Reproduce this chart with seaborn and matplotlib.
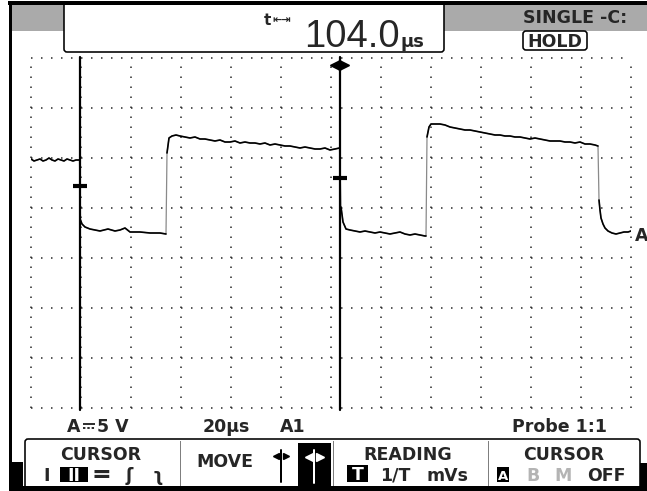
import matplotlib
matplotlib.use('Agg')
import matplotlib.pyplot as plt
import seaborn as sns
from matplotlib.patches import Rectangle, FancyBboxPatch

# channel A trace, time in us (20 us/div), volts (5 V/div, 0 V = ground marker)
t_pre = [0.0, 1.2, 2.4, 3.6, 4.8, 6.0, 7.2, 8.4, 9.6, 10.8, 12.0, 13.2, 14.4, 15.6, 16.8, 18.0, 19.4]
v_pre = [7.4, 7.2, 7.3, 7.4, 7.2, 7.3, 7.5, 7.3, 7.2, 7.4, 7.3, 7.2, 7.4, 7.3, 7.2, 7.3, 7.3]

t_low1 = [19.8, 20.4, 21.6, 23.6, 25.6, 27.6, 30.8, 33.6, 35.6, 37.6, 39.6, 43.6, 47.6, 51.6, 54.0]
v_low1 = [1.3, 0.9, 0.6, 0.4, 0.3, 0.2, 0.4, 0.2, 0.3, 0.5, 0.1, 0.1, 0.0, 0.0, -0.1]

t_high1 = [54.4, 55.2, 56.4, 58.0, 59.6, 61.6, 63.6, 65.6, 67.6, 69.6, 71.6, 73.6, 75.6, 77.6,
           79.6, 81.6, 83.6, 85.6, 87.6, 89.6, 91.6, 93.6, 95.6, 97.6, 99.6, 101.6, 103.6,
           105.6, 107.6, 109.6, 111.6, 113.6, 115.6, 117.6, 119.6, 121.6, 123.4]
v_high1 = [8.0, 9.5, 9.7, 9.8, 9.7, 9.6, 9.5, 9.6, 9.4, 9.4, 9.3, 9.2, 9.3, 9.1, 9.1, 9.2, 9.0,
           9.1, 9.0, 9.0, 8.9, 9.0, 8.8, 8.9, 8.8, 8.7, 8.7, 8.6, 8.5, 8.6, 8.5, 8.4, 8.4, 8.5,
           8.3, 8.4, 8.5]

t_low2 = [124.0, 124.8, 126.0, 127.6, 129.6, 131.6, 133.6, 135.6, 137.6, 139.6, 141.6, 143.6,
          145.6, 147.6, 149.6, 151.6, 153.6, 155.6, 157.6, 158.0]
v_low2 = [2.6, 1.1, 0.4, 0.3, 0.2, 0.1, 0.2, 0.1, 0.0, 0.1, 0.0, -0.1, 0.0, 0.1, -0.1, -0.2,
          -0.1, -0.2, -0.3, -0.3]

t_high2 = [158.4, 159.2, 160.0, 161.6, 163.6, 165.6, 167.6, 169.6, 171.6, 173.6, 175.6, 177.6,
           179.6, 181.6, 183.6, 185.6, 187.6, 189.6, 191.6, 193.6, 195.6, 197.6, 199.6, 201.6,
           203.6, 205.6, 207.6, 209.6, 211.6, 213.6, 215.6, 217.6, 219.6, 221.6, 223.6, 225.6, 226.8]
v_high2 = [9.6, 10.6, 10.9, 10.9, 10.9, 10.8, 10.6, 10.5, 10.4, 10.3, 10.3, 10.2, 10.1, 10.0,
           9.9, 9.8, 9.8, 9.7, 9.7, 9.6, 9.6, 9.5, 9.4, 9.5, 9.4, 9.3, 9.2, 9.2, 9.2, 9.1, 9.1,
           9.0, 9.1, 8.9, 8.9, 8.8, 8.7]

t_low3 = [227.2, 227.6, 228.0, 228.8, 229.6, 230.8, 232.4, 234.0, 235.6, 237.2, 238.8, 240.0]
v_low3 = [3.3, 2.3, 1.5, 0.9, 0.5, 0.2, 0.0, -0.1, 0.0, 0.1, 0.1, 0.2]

cursor_t = [19.4, 123.4]
cursor_mark_v = [4.7, 5.5]

x_ticks = [0, 20, 40, 60, 80, 100, 120, 140, 160, 180, 200, 220, 240]
y_ticks = [-17.5, -12.5, -7.5, -2.5, 2.5, 7.5, 12.5, 17.5]

readout = '104.0'
status_left = ['A', '5 V']   # DC sign between them is drawn, no installed font has it
status_mid = ['20\u00b5s', 'A1']
status_right = 'Probe 1:1'

segments = [(t_pre, v_pre), (t_low1, v_low1), (t_high1, v_high1),
            (t_low2, v_low2), (t_high2, v_high2), (t_low3, v_low3)]
t_all = [t for s in segments for t in s[0]]
v_all = [v for s in segments for v in s[1]]

sns.set_style('white')
plt.rcParams['font.family'] = ['DejaVu Sans']
px = 0.72  # one pixel in points at dpi 100

fig = plt.figure(figsize=(6.47, 4.91), dpi=100)

# screen furniture in pixel coordinates
bg = fig.add_axes([0, 0, 1, 1])
bg.set_xlim(0, 647)
bg.set_ylim(491, 0)
bg.axis('off')

bg.add_patch(Rectangle((12, 4), 640, 27, fc='#aaaaaa', ec='none'))
bg.add_patch(FancyBboxPatch((64, 2), 380, 50, boxstyle='round,pad=0,rounding_size=3',
                            fc='white', ec='black', lw=1.6 * px))
bg.add_patch(Rectangle((8, 1), 639, 3.5, fc='black', ec='none'))
bg.add_patch(Rectangle((8.5, 1), 3.5, 462, fc='black', ec='none'))

bg.text(264, 25, 't', fontsize=11, fontweight='bold', va='baseline')
bg.text(272, 23, '\u21e4\u21e5', fontsize=8, fontweight='bold', va='baseline')
bg.text(304, 47, readout, fontsize=27.5, family=['Liberation Sans'], va='baseline')
bg.text(401, 47, '\u00b5s', fontsize=13, fontweight='bold', va='baseline')

bg.text(523, 23, 'SINGLE -C:', fontsize=12.5, fontweight='bold', va='baseline')
bg.add_patch(FancyBboxPatch((523, 31), 64, 19, boxstyle='round,pad=0,rounding_size=3',
                            fc='white', ec='black', lw=1.6 * px))
bg.text(555, 47, 'HOLD', fontsize=12.5, fontweight='bold', va='baseline', ha='center')

# status line
bg.text(67, 432, status_left[0], fontsize=12.5, fontweight='bold', va='baseline')
bg.plot([83, 95], [423.5, 423.5], color='black', lw=1.6 * px, solid_capstyle='butt')
bg.plot([83, 95], [428, 428], color='black', lw=1.6 * px, ls=(0, (1.5, 1.2)))
bg.text(97, 432, status_left[1], fontsize=12.5, fontweight='bold', va='baseline')
bg.text(203, 432, status_mid[0], fontsize=12.5, fontweight='bold', va='baseline')
bg.text(280, 432, status_mid[1], fontsize=12.5, fontweight='bold', va='baseline')
bg.text(512, 432, status_right, fontsize=12.5, fontweight='bold', va='baseline')

# soft keys
bg.add_patch(FancyBboxPatch((25, 439), 615, 60, boxstyle='round,pad=0,rounding_size=3',
                            fc='white', ec='black', lw=1.6 * px))
bg.add_patch(Rectangle((8.5, 462), 14, 30, fc='black', ec='none'))
bg.add_patch(Rectangle((640, 463), 8, 30, fc='black', ec='none'))
bg.add_patch(Rectangle((8.5, 486), 640, 6, fc='black', ec='none'))
for xs in [180, 333, 488]:
    bg.plot([xs, xs], [441, 486], color='black', lw=px, ls=(0, (1, 1)))

kw = dict(fontsize=12.5, fontweight='bold', va='baseline')
bg.text(101, 460, 'CURSOR', ha='center', **kw)
bg.text(47, 481, 'I', ha='center', **kw)
bg.add_patch(Rectangle((60, 467), 28, 15, fc='black', ec='none'))
bg.text(74, 481, 'II', ha='center', color='white', **kw)
bg.text(101, 482, '=', ha='center', fontsize=17, fontweight='bold', va='baseline')
bg.text(129, 481, '\u0283', ha='center', **kw)
bg.text(158, 481, '\u0285', ha='center', **kw)

bg.text(196, 467, 'MOVE', **kw)
bg.plot([281, 281], [450, 482], color='black', lw=2 * px)
bg.plot([276], [456], marker='<', ms=5, color='black')
bg.plot([286], [456], marker='>', ms=5, color='black')
bg.add_patch(Rectangle((298, 443), 33, 45, fc='black', ec='none'))
bg.plot([314, 314], [450, 483], color='white', lw=2 * px)
bg.plot([308.5], [457], marker='<', ms=6, color='white')
bg.plot([319.5], [457], marker='>', ms=6, color='white')

bg.text(408, 460, 'READING', ha='center', **kw)
bg.add_patch(Rectangle((347, 465), 21, 17, fc='black', ec='none'))
bg.text(357.5, 480, 'T', ha='center', color='white', **kw)
bg.text(380, 481, '1/T', **kw)
bg.text(427, 481, 'mVs', **kw)

bg.text(564, 460, 'CURSOR', ha='center', **kw)
bg.add_patch(Rectangle((497, 467), 12, 15, fc='black', ec='none'))
bg.text(503, 480, 'A', ha='center', color='white', fontsize=9.5, fontweight='bold', va='baseline')
bg.text(533, 481, 'B', ha='center', color='#b4b4b4', **kw)
bg.text(563, 481, 'M', ha='center', color='#b4b4b4', **kw)
bg.text(587, 481, 'OFF', **kw)

# scope graticule and trace
ax = fig.add_axes([31 / 647, 83 / 491, 600 / 647, 350 / 491])
ax.patch.set_alpha(0)
ax.set_xlim(0, 240)
ax.set_ylim(-17.5, 17.5)
ax.set_xticks(x_ticks)
ax.set_yticks(y_ticks)
ax.tick_params(length=0, labelbottom=False, labelleft=False)
ax.grid(True, color='#222222', lw=1.08, ls=(0, (1, 5.667)))
for gl in ax.get_xgridlines() + ax.get_ygridlines():
    gl.set_clip_on(False)
for sp in ax.spines.values():
    sp.set_visible(False)

sns.lineplot(x=t_all, y=v_all, sort=False, estimator=None, color='#8a8a8a', lw=0.9, ax=ax)
for ts, vs in segments:
    sns.lineplot(x=ts, y=vs, sort=False, estimator=None, color='black', lw=1.2, ax=ax)

for c in cursor_t:
    ax.plot([c, c], [-17.7, 17.6], color='black', lw=1.6, clip_on=False)
ax.plot(cursor_t, cursor_mark_v, ls='none', marker='_', ms=10, mew=3, color='black')
ax.plot([cursor_t[1] - 1.8], [16.85], marker='<', ms=6.5, color='black', clip_on=False)
ax.plot([cursor_t[1] + 1.8], [16.85], marker='>', ms=6.5, color='black', clip_on=False)

ax.text(241.6, -0.8, 'A', fontsize=12.5, fontweight='bold', va='baseline')
ax.set_xlabel('')
ax.set_ylabel('')

fig.savefig('out.png', dpi=100)
